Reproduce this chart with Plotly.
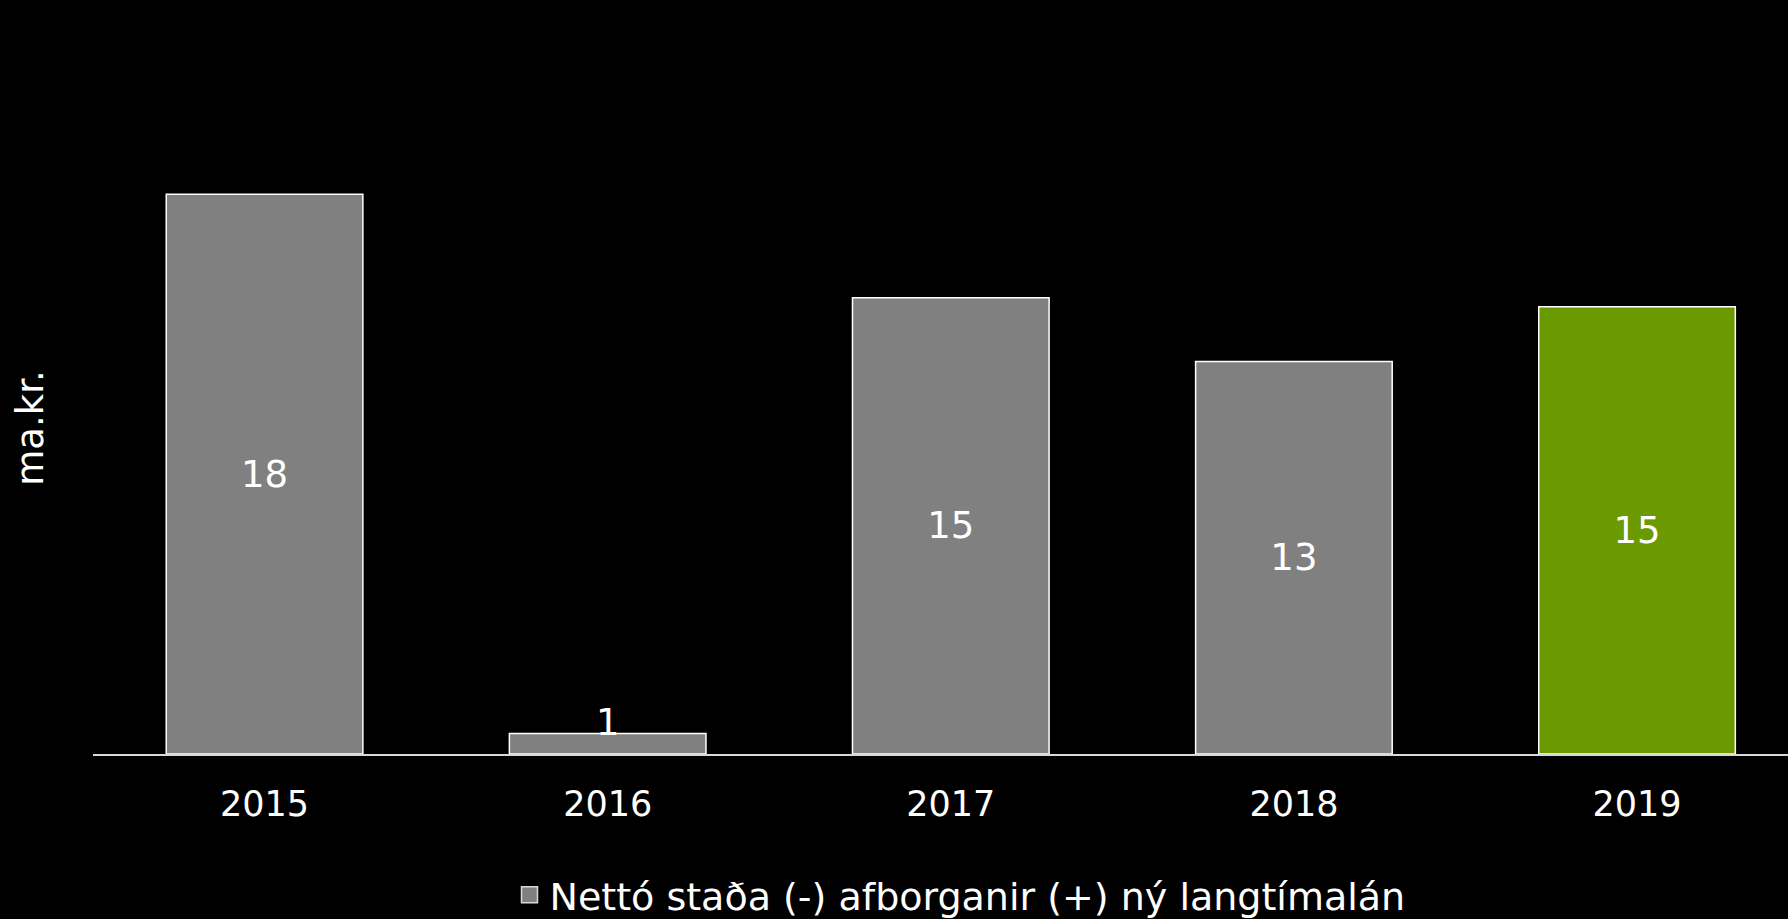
import plotly.graph_objects as go

# Gögn
ar = ['2015', '2016', '2017', '2018', '2019']
netto = [18.4, 0.67, 15.0, 12.9, 14.7]
merki = ['18', '1', '15', '13', '15']
litir = ['#808080', '#808080', '#808080', '#808080', '#6A9A00']
heiti = 'Nettó staða (-) afborganir (+) ný langtímalán'

leturgerd = 'DejaVu Sans'

# lítil súla fær merki fyrir ofan, hinar inni í súlunni
stadsetning = ['inside' if v > 2 else 'none' for v in netto]

fig = go.Figure()
fig.add_bar(x=ar, y=netto, text=merki, textposition=stadsetning,
            insidetextanchor='middle',
            textfont=dict(family=leturgerd, size=37, color='white'),
            marker=dict(color=litir, line=dict(color='white', width=1.5)),
            name=heiti, showlegend=False, cliponaxis=False)
for i, (v, m) in enumerate(zip(netto, merki)):
    if v <= 2:
        fig.add_annotation(x=i, y=v, text=m, showarrow=False, yanchor='bottom', yshift=-12,
                           font=dict(size=37, color='white'))
# skýring með stærra tákni
fig.add_scatter(x=[None], y=[None], mode='markers', name=heiti,
                marker=dict(symbol='square', size=20, color='#808080',
                            line=dict(color='#d9d9d9', width=1.5)))

fig.update_layout(
    width=1788, height=919,
    paper_bgcolor='black', plot_bgcolor='black',
    margin=dict(l=93, r=0, t=102, b=165),
    bargap=0.427,
    font=dict(family=leturgerd, color='white', size=35),
    showlegend=True,
    legend=dict(orientation='h', x=0.5115, xanchor='center',
                yref='container', y=0.026, yanchor='middle',
                font=dict(size=38), itemwidth=30),
)
fig.update_xaxes(range=[-0.5, 4.44], showline=True, linecolor='#d9d9d9', linewidth=1.5,
                 showgrid=False, ticks='', ticklabelstandoff=18, tickfont=dict(size=35))
fig.update_yaxes(range=[0, 21.43], showgrid=False, zeroline=False, showticklabels=False,
                 title=dict(text='ma.kr.', font=dict(size=37), standoff=37))

fig.write_html('out.html', config={'displayModeBar': False},
               post_script="document.body.style.margin='0';")
